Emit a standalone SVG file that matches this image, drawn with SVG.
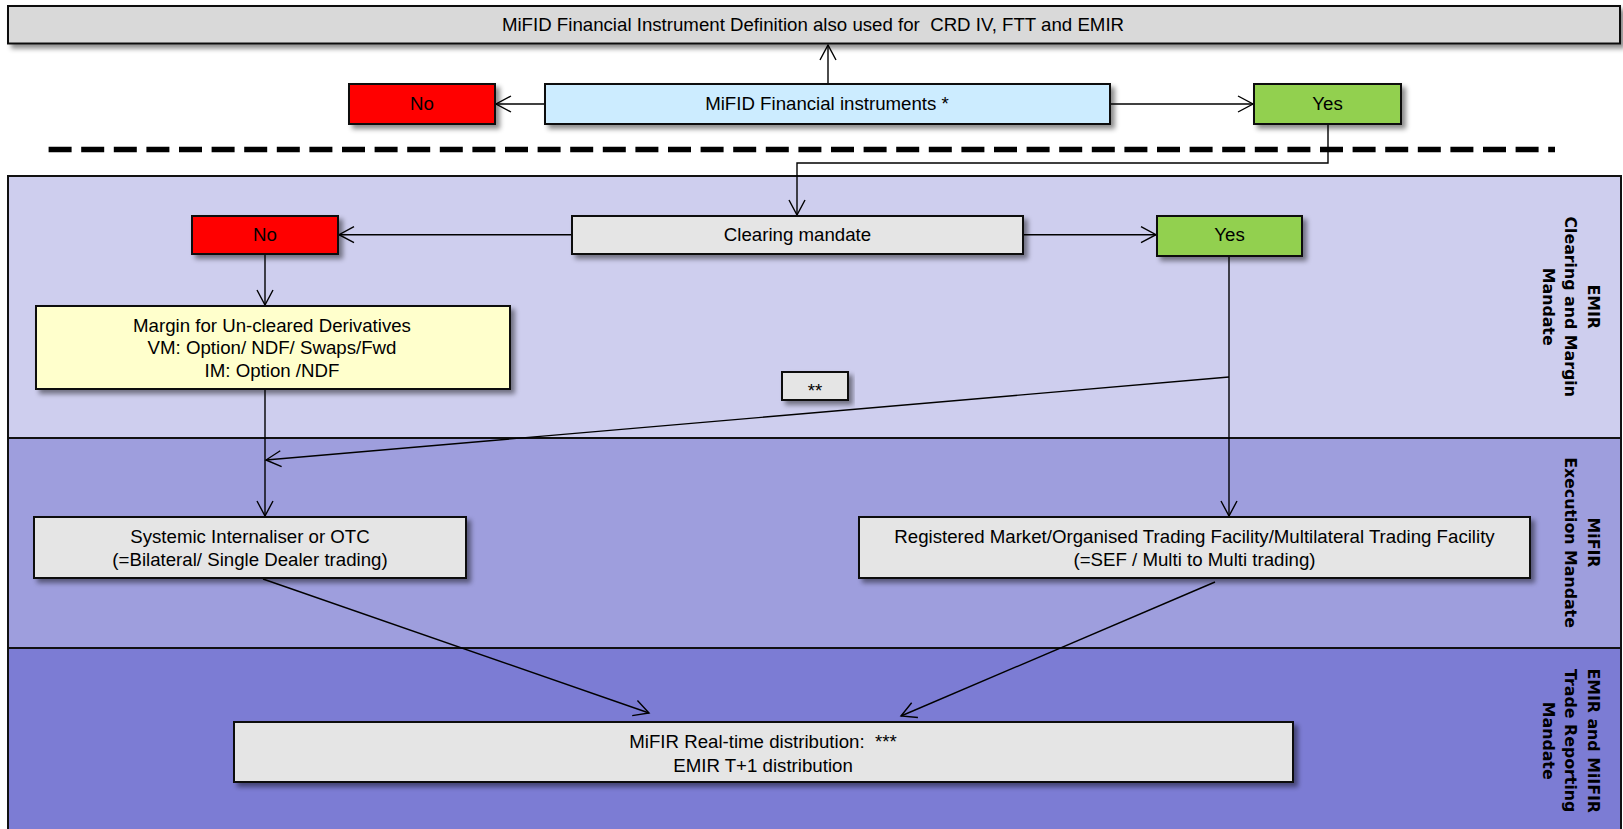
<svg xmlns="http://www.w3.org/2000/svg" width="1623" height="829" viewBox="0 0 1623 829">
<defs>
<filter id="sh" x="-5%" y="-20%" width="115%" height="160%">
<feDropShadow dx="4" dy="4" stdDeviation="2.5" flood-color="#000" flood-opacity="0.45"/>
</filter>
<marker id="arr" markerUnits="userSpaceOnUse" markerWidth="20" markerHeight="20" viewBox="-17 -10 20 20" refX="0" refY="0" orient="auto">
<path d="M-15,-8 L0,0 L-15,8" fill="none" stroke="#000" stroke-width="1.4"/>
</marker>
</defs>
<style>
text{font-family:"Liberation Sans",Arial,sans-serif;font-size:18.67px;fill:#000;text-anchor:middle;white-space:pre}
.lbl{font-family:"DejaVu Sans",Verdana,sans-serif;font-size:15.8px;font-weight:bold}
.box{stroke:#111;stroke-width:2;filter:url(#sh)}
.lane{stroke:#111;stroke-width:2}
.c{fill:none;stroke:#000;stroke-width:1.4}
.gray{fill:#E5E5E5}
</style>
<rect width="1623" height="829" fill="#fff"/>

<g id="lanes">
<rect class="lane" x="8" y="176" width="1613" height="262" fill="#CECEEE"/>
<rect class="lane" x="8" y="438" width="1613" height="210" fill="#9E9EDD"/>
<rect class="lane" x="8" y="648" width="1613" height="200" fill="#7C7CD4"/>
<g transform="translate(1571,306.7) rotate(90)">
<text class="lbl" x="0" y="-16.9">EMIR</text>
<text class="lbl" x="0" y="6.1">Clearing and Margin</text>
<text class="lbl" x="0" y="28.5">Mandate</text>
</g>
<g transform="translate(1571,542.5) rotate(90)">
<text class="lbl" x="0" y="-16.9">MiFIR</text>
<text class="lbl" x="0" y="6.1">Execution Mandate</text>
</g>
<g transform="translate(1571,740.7) rotate(90)">
<text class="lbl" x="0" y="-16.9">EMIR and MiIFIR</text>
<text class="lbl" x="0" y="6.1">Trade Reporting</text>
<text class="lbl" x="0" y="28.5">Mandate</text>
</g>
</g>

<line id="divider" x1="48.6" y1="149.5" x2="1555" y2="149.5" stroke="#000" stroke-width="5.6" stroke-dasharray="23 9.6"/>

<g id="connectors">
<line class="c" x1="545" y1="104" x2="496" y2="104" marker-end="url(#arr)"/>
<line class="c" x1="1110" y1="104" x2="1253" y2="104" marker-end="url(#arr)"/>
<line class="c" x1="828" y1="84" x2="828" y2="45" marker-end="url(#arr)"/>
<polyline class="c" points="1328,124 1328,163 797,163 797,215" marker-end="url(#arr)"/>
<line class="c" x1="572" y1="234.7" x2="339" y2="234.7" marker-end="url(#arr)"/>
<line class="c" x1="1023" y1="234.7" x2="1156" y2="234.7" marker-end="url(#arr)"/>
<line class="c" x1="265" y1="254" x2="265" y2="305" marker-end="url(#arr)"/>
<line class="c" x1="265" y1="389" x2="265" y2="516" marker-end="url(#arr)"/>
<line class="c" x1="1229" y1="256" x2="1229" y2="516" marker-end="url(#arr)"/>
<line class="c" x1="1229" y1="377" x2="266" y2="460" marker-end="url(#arr)"/>
<line class="c" x1="263" y1="579" x2="649" y2="713" marker-end="url(#arr)"/>
<line class="c" x1="1215" y1="582" x2="901" y2="716" marker-end="url(#arr)"/>
</g>

<g id="n-top">
<rect class="box" x="8" y="6" width="1612" height="37.5" fill="#D9D9D9"/>
<text x="813" y="30.5">MiFID Financial Instrument Definition also used for  CRD IV, FTT and EMIR</text>
</g>
<g id="n-no1">
<rect class="box" x="349" y="84" width="146" height="40" fill="#FF0000"/>
<text x="422" y="110">No</text>
</g>
<g id="n-mifid">
<rect class="box" x="545" y="84" width="565" height="40" fill="#CCECFF"/>
<text x="827" y="110">MiFID Financial instruments *</text>
</g>
<g id="n-yes1">
<rect class="box" x="1254" y="84" width="147" height="40" fill="#92D050"/>
<text x="1327.5" y="110">Yes</text>
</g>
<g id="n-no2">
<rect class="box" x="192" y="216" width="146" height="38" fill="#FF0000"/>
<text x="265" y="241">No</text>
</g>
<g id="n-clearing">
<rect class="box gray" x="572" y="216" width="451" height="38"/>
<text x="797.5" y="241">Clearing mandate</text>
</g>
<g id="n-yes2">
<rect class="box" x="1157" y="216" width="145" height="40" fill="#92D050"/>
<text x="1229.5" y="241">Yes</text>
</g>
<g id="n-margin">
<rect class="box" x="36" y="306" width="474" height="83" fill="#FFFFCC"/>
<text x="272" y="331.7">Margin for Un-cleared Derivatives</text>
<text x="272" y="354.3">VM: Option/ NDF/ Swaps/Fwd</text>
<text x="272" y="376.7">IM: Option /NDF</text>
</g>
<g id="n-note">
<rect class="box gray" x="782" y="372" width="66" height="28"/>
<text x="815" y="397">**</text>
</g>
<g id="n-systemic">
<rect class="box gray" x="34" y="517" width="432" height="61"/>
<text x="250" y="543.3">Systemic Internaliser or OTC</text>
<text x="250" y="566">(=Bilateral/ Single Dealer trading)</text>
</g>
<g id="n-registered">
<rect class="box gray" x="859" y="517" width="671" height="61"/>
<text x="1194.5" y="543.3">Registered Market/Organised Trading Facility/Multilateral Trading Facility</text>
<text x="1194.5" y="566">(=SEF / Multi to Multi trading)</text>
</g>
<g id="n-mifir">
<rect class="box gray" x="234" y="722" width="1059" height="60"/>
<text x="763" y="748.3">MiFIR Real-time distribution:  ***</text>
<text x="763" y="771.7">EMIR T+1 distribution</text>
</g>
</svg>
